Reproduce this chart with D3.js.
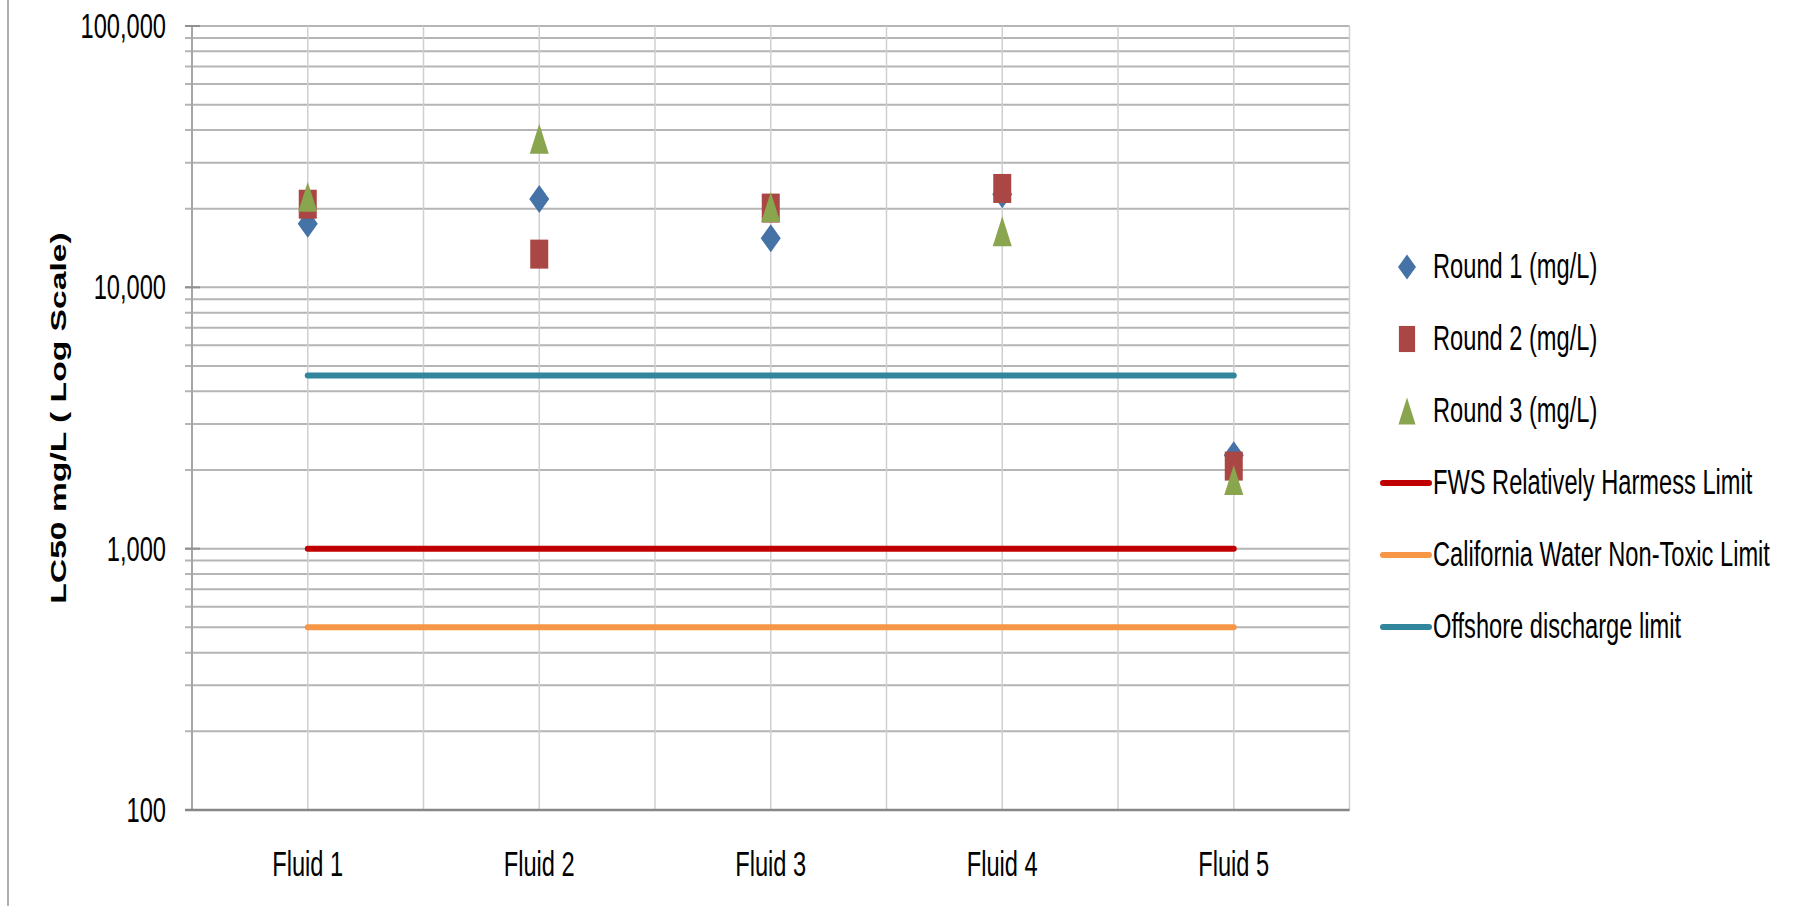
<!DOCTYPE html>
<html>
<head>
<meta charset="utf-8">
<script src="https://cdn.jsdelivr.net/npm/d3@7/dist/d3.min.js"></script>
<style>
  body { margin: 0; background: #fff; }
  text { font-family: "Liberation Sans", Arial, sans-serif; fill: #000; }
</style>
</head>
<body>
<script>
// data
var fluids = ["Fluid 1", "Fluid 2", "Fluid 3", "Fluid 4", "Fluid 5"];
var round1 = [17500, 21800, 15400, 22700, 2280];
var round2 = [20800, 13400, 20100, 23900, 2070];
var round3 = [22200, 37000, 20300, 16400, 1830];
var fwsLimit = [1000, 1000, 1000, 1000, 1000];
var californiaLimit = [500, 500, 500, 500, 500];
var offshoreLimit = [4600, 4600, 4600, 4600, 4600];
var yTicks = [100, 1000, 10000, 100000];

var pointSeries = [
  { name: "Round 1 (mg/L)", values: round1, shape: "diamond", color: "#4572A7" },
  { name: "Round 2 (mg/L)", values: round2, shape: "square", color: "#AA4643" },
  { name: "Round 3 (mg/L)", values: round3, shape: "triangle", color: "#89A54E" }
];
var lineSeries = [
  { name: "FWS Relatively Harmess Limit", values: fwsLimit, color: "#C00000" },
  { name: "California Water Non-Toxic Limit", values: californiaLimit, color: "#F79646" },
  { name: "Offshore discharge limit", values: offshoreLimit, color: "#31859C" }
];

var width = 1819, height = 906;
var margin = { left: 192, top: 26, right: 469.5, bottom: 96 };
// the picture is squashed: glyphs come out narrow and tall
var sx = 0.91, sy = 1.35;
var textScale = "scale(" + sx + "," + sy + ")";

var svg = d3.select("body").append("svg")
    .attr("width", width)
    .attr("height", height);

var x = d3.scaleBand()
    .domain(fluids)
    .range([margin.left, width - margin.right]);

var y = d3.scaleLog()
    .domain([100, 100000])
    .range([height - margin.bottom, margin.top]);

function cx(d) { return x(d) + x.bandwidth() / 2; }

// outer frame line at the left
svg.append("line")
    .attr("x1", 8).attr("x2", 8).attr("y1", 0).attr("y2", height)
    .style("stroke", "#b0b0b0").style("stroke-width", 2);

// horizontal gridlines, every 1..9 of each decade
svg.append("g").selectAll("line")
    .data(y.ticks())
    .enter().append("line")
    .attr("x1", margin.left - 7)
    .attr("x2", width - margin.right)
    .attr("y1", function(d) { return y(d); })
    .attr("y2", function(d) { return y(d); })
    .style("stroke", "#b5b5b5")
    .style("stroke-width", 2);

// vertical gridlines at the band edges and centres
var vLines = [];
fluids.forEach(function(f, i) {
  if (i > 0) vLines.push(x(f));
  vLines.push(cx(f));
});
vLines.push(width - margin.right);

svg.append("g").selectAll("line")
    .data(vLines)
    .enter().append("line")
    .attr("x1", function(d) { return d; })
    .attr("x2", function(d) { return d; })
    .attr("y1", margin.top)
    .attr("y2", height - margin.bottom)
    .style("stroke", "#d0d0d0")
    .style("stroke-width", 1.5);

// left axis
var yAxis = svg.append("g")
    .attr("transform", "translate(" + margin.left + ",0)")
    .call(d3.axisLeft(y).tickValues(yTicks).tickSize(0).tickFormat(d3.format(",")));
yAxis.select(".domain").remove();
yAxis.selectAll("text")
    .style("font-size", "26px")
    .attr("x", -26 / sx)
    .attr("dy", "0.33em")
    .attr("transform", textScale);

svg.append("line")
    .attr("x1", margin.left).attr("x2", margin.left)
    .attr("y1", margin.top).attr("y2", height - margin.bottom)
    .style("stroke", "#a6a6a6").style("stroke-width", 2);

svg.append("g").selectAll("line")
    .data(yTicks)
    .enter().append("line")
    .attr("x1", margin.left - 7)
    .attr("x2", margin.left + 8)
    .attr("y1", function(d) { return y(d); })
    .attr("y2", function(d) { return y(d); })
    .style("stroke", "#909090")
    .style("stroke-width", 2);

// bottom axis
var xAxis = svg.append("g")
    .attr("transform", "translate(0," + (height - margin.bottom) + ")")
    .call(d3.axisBottom(x).tickSize(0));
xAxis.select(".domain").remove();
xAxis.selectAll("text")
    .style("font-size", "26px")
    .attr("y", 66 / sy)
    .attr("dy", 0)
    .attr("transform", textScale);

svg.append("line")
    .attr("x1", margin.left - 7).attr("x2", width - margin.right)
    .attr("y1", height - margin.bottom).attr("y2", height - margin.bottom)
    .style("stroke", "#878787").style("stroke-width", 2.5);

// y axis title
svg.append("text")
    .attr("transform", "translate(66," + ((margin.top + height - margin.bottom) / 2) + ") rotate(-90) scale(1.53,1)")
    .attr("text-anchor", "middle")
    .style("font-size", "22px")
    .style("font-weight", "bold")
    .text("LC50 mg/L ( Log Scale)");

// limit lines
var line = d3.line()
    .x(function(d, i) { return cx(fluids[i]); })
    .y(function(d) { return y(d); });

svg.append("g").selectAll("path")
    .data(lineSeries)
    .enter().append("path")
    .attr("d", function(s) { return line(s.values); })
    .style("fill", "none")
    .style("stroke", function(s) { return s.color; })
    .style("stroke-width", 6)
    .style("stroke-linecap", "round");

// marker shapes, w x h in pixels
function marker(shape) {
  if (shape === "diamond") return "M0,-14L10,0L0,14L-10,0Z";
  if (shape === "square") return "M-9,-14.5H9V14.5H-9Z";
  return "M0,-15L9.5,15H-9.5Z";
}

pointSeries.forEach(function(s) {
  svg.append("g").selectAll("path")
      .data(s.values)
      .enter().append("path")
      .attr("d", marker(s.shape))
      .attr("transform", function(d, i) {
        return "translate(" + cx(fluids[i]) + "," + y(d) + ")";
      })
      .style("fill", s.color);
});

// legend
var legend = svg.append("g").attr("transform", "translate(1407,267)");
var legendItems = pointSeries.concat(lineSeries);

var item = legend.selectAll("g")
    .data(legendItems)
    .enter().append("g")
    .attr("transform", function(d, i) { return "translate(0," + (i * 72) + ")"; });

item.filter(function(d) { return d.shape; })
    .append("path")
    .attr("d", function(d) { return marker(d.shape); })
    .attr("transform", "scale(0.9)")
    .style("fill", function(d) { return d.color; });

item.filter(function(d) { return !d.shape; })
    .append("line")
    .attr("x1", -24).attr("x2", 22)
    .style("stroke", function(d) { return d.color; })
    .style("stroke-width", 6)
    .style("stroke-linecap", "round");

item.append("text")
    .attr("x", 26 / sx)
    .attr("y", 10.5 / sy)
    .attr("transform", textScale)
    .style("font-size", "26px")
    .text(function(d) { return d.name; });
</script>
</body>
</html>
